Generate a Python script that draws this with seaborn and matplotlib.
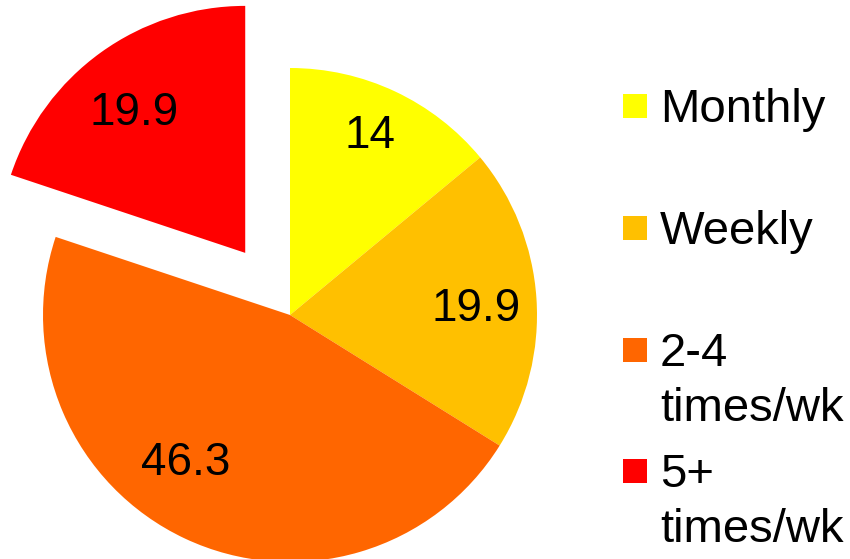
import matplotlib
matplotlib.use('Agg')
import matplotlib.pyplot as plt
import seaborn as sns
from matplotlib.patches import Rectangle

# Frequency categories and their shares
categories = ['Monthly', 'Weekly', '2-4\ntimes/wk', '5+\ntimes/wk']
values = [14, 19.9, 46.3, 19.9]
colors = ['#FFFF00', '#FFC000', '#FF6600', '#FF0000']
explode = [0, 0, 0, 0.31]

sns.set_theme(style="white")
plt.rcParams['font.family'] = ['Liberation Sans', 'DejaVu Sans']

fig = plt.figure(figsize=(8.5, 5.59), dpi=100)
ax = fig.add_axes([0, 0, 1, 1])

total = sum(values)
wedges, texts, autotexts = ax.pie(
    values,
    colors=colors,
    explode=explode,
    startangle=90,
    counterclock=False,
    autopct=lambda p: f"{p * total / 100:.3g}",
    pctdistance=0.76,
    wedgeprops=dict(linewidth=0),
    textprops=dict(fontsize=33, color='black'),
)

# pixel-matched frame: radius 1 == 247 px, centre at (290, 315) from top-left
r_px = 247
ax.set_xlim(-290 / r_px, 560 / r_px)
ax.set_ylim(-244 / r_px, 315 / r_px)
ax.axis('off')

# nudge value labels to where the original places them (pixels: right, up)
label_nudge = [(0, 9), (-1, -7), (-24, 22), (-1, -12)]
for t, (dx, dy) in zip(autotexts, label_nudge):
    x, y = t.get_position()
    t.set_position((x + dx / r_px, y + dy / r_px))

# legend drawn to match the original layout (marker aligned with first line)
W, H = 850, 559
baselines = [122, 244, 366, 487]
for cat, col, base in zip(categories, colors, baselines):
    fig.patches.append(Rectangle((623 / W, 1 - (base - 4) / H), 24 / W, 24 / H,
                                 transform=fig.transFigure, facecolor=col,
                                 edgecolor='none'))
    lines = cat.split('\n')
    for i, line in enumerate(lines):
        fig.text(660 / W, 1 - (base + 55 * i) / H, line, fontsize=34,
                 va='baseline', ha='left', color='black')

fig.savefig('out.png', dpi=100, facecolor='white')
